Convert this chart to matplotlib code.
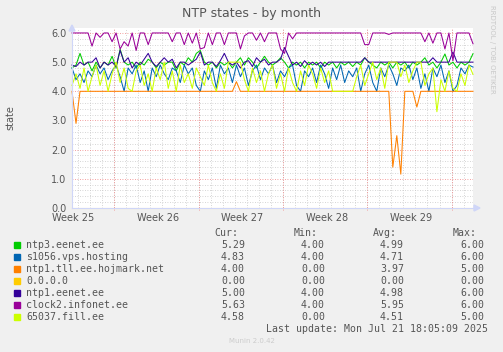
import numpy as np
import matplotlib.pyplot as plt
from matplotlib.patches import Rectangle

# samples every 1/3 day across the month window
days = np.linspace(0, 33.28, 101)

ntp3 = [4.8, 4.9, 5.3, 4.9, 5.0, 4.7, 5.0, 4.8, 5.0, 4.9,
        5.2, 4.8, 5.45, 5.0, 4.9, 5.0, 4.8, 5.0, 4.9, 5.1,
        5.0, 4.8, 5.0, 4.9, 5.0, 5.0, 4.7, 5.0, 4.9, 5.15,
        5.0, 5.3, 5.4, 5.0, 4.9, 5.0, 4.8, 5.0, 4.9, 5.0,
        4.8, 5.0, 5.15, 4.9, 5.15, 5.0, 4.8, 5.0, 5.2, 5.0,
        4.9, 5.0, 5.15, 5.0, 4.8, 5.0, 4.9, 5.0, 4.8, 5.0,
        4.9, 5.0, 4.8, 5.0, 4.9, 5.0, 4.8, 5.0, 4.9, 5.0,
        4.85, 5.0, 4.9, 5.15, 5.0, 4.9, 4.8, 5.0, 4.9, 5.0,
        4.8, 5.0, 4.9, 5.0, 4.8, 5.0, 4.9, 5.0, 5.15, 4.9,
        5.0, 4.8, 5.0, 5.28, 4.9, 5.0, 4.8, 5.0, 4.9, 5.0,
        5.29]

s1056 = [4.8, 4.4, 4.6, 4.3, 4.7, 4.5, 4.9, 4.6, 4.8, 4.4,
         4.7, 4.9, 4.5, 4.0, 4.8, 4.6, 4.9, 4.3, 4.7, 4.0,
         4.8, 4.5, 4.9, 4.6, 4.4, 4.8, 4.7, 4.3, 4.9, 4.6,
         4.8, 4.2, 4.0, 4.7, 4.4, 4.8, 4.1, 4.9, 4.6, 4.8,
         4.3, 4.9, 4.5, 4.8, 4.2, 4.7, 4.9, 4.4, 4.8, 4.6,
         4.9, 4.3, 4.7, 4.5, 4.8, 4.9, 4.2, 4.0, 4.7, 4.5,
         4.8, 4.3, 4.9, 4.6, 4.1, 4.8, 4.4, 4.9, 4.3, 4.7,
         4.5, 4.8, 4.0, 4.6, 4.9, 4.3, 4.0, 4.8, 4.5, 4.9,
         4.6, 4.2, 4.8, 4.7, 4.9, 4.4, 4.8, 4.1, 4.6, 4.0,
         4.8, 4.5, 4.9, 4.3, 4.7, 4.0, 4.2, 4.8, 4.6, 4.9,
         4.83]

hojmark = [4.0, 2.9, 4.0, 4.0, 4.0, 4.0, 4.0, 4.0, 4.0, 4.0,
           4.0, 4.0, 4.0, 4.0, 4.0, 4.0, 4.0, 4.0, 4.0, 4.0,
           4.0, 4.0, 4.0, 4.0, 4.0, 4.0, 4.0, 4.0, 4.0, 4.0,
           4.0, 4.0, 4.0, 4.0, 4.0, 4.0, 4.0, 4.0, 4.0, 4.0,
           4.0, 4.33, 4.0, 4.0, 4.0, 4.0, 4.0, 4.0, 4.0, 4.0,
           4.0, 4.0, 4.0, 4.0, 4.0, 4.0, 4.0, 4.0, 4.0, 4.0,
           4.0, 4.0, 4.0, 4.0, 4.0, 4.0, 4.0, 4.0, 4.0, 4.0,
           4.0, 4.0, 4.0, 4.0, 4.0, 4.0, 4.0, 4.0, 4.0, 4.0,
           1.4, 2.48, 1.16, 4.0, 4.0, 4.0, 3.46, 4.0, 4.0, 4.0,
           4.0, 4.0, 4.0, 4.0, 4.0, 4.0, 4.0, 4.0, 4.0, 4.0,
           4.0]

zero_peer = [0.0] * 101

ntp1 = [4.9, 4.85, 5.0, 4.9, 5.0, 5.0, 5.15, 4.8, 5.0, 4.9,
        5.0, 4.85, 5.4, 5.0, 5.15, 4.8, 5.0, 4.9, 5.1, 5.3,
        5.0, 4.85, 5.0, 5.15, 5.0, 5.1, 4.8, 5.0, 5.0, 4.9,
        5.0, 5.1, 5.35, 4.9, 5.0, 5.0, 4.85, 5.05, 5.3, 5.0,
        4.9, 5.0, 4.8, 5.0, 5.05, 4.85, 5.15, 5.0, 5.1, 4.9,
        5.0, 5.0, 5.1, 5.5, 5.2, 4.9, 5.0, 4.85, 5.05, 4.9,
        5.0, 4.9, 5.0, 4.85, 5.0, 5.0, 5.0, 5.0, 5.0, 5.0,
        5.0, 5.0, 5.0, 5.15, 5.0, 5.0, 5.0, 5.0, 5.0, 5.0,
        5.0, 5.0, 5.0, 5.0, 5.0, 5.0, 5.0, 5.0, 5.0, 5.0,
        5.15, 5.0, 5.0, 5.0, 5.0, 5.35, 5.0, 5.0, 5.0, 5.0,
        5.0]

clock2 = [6.0, 6.0, 6.0, 6.0, 6.0, 5.55, 6.0, 5.85, 6.0, 6.0,
          5.7, 6.0, 5.45, 5.7, 5.55, 6.0, 5.4, 6.0, 6.0, 5.6,
          6.0, 6.0, 6.0, 6.0, 6.0, 5.7, 6.0, 6.0, 5.6, 6.0,
          5.65, 6.0, 5.45, 5.5, 6.0, 5.6, 6.0, 6.0, 5.6, 6.0,
          6.0, 6.0, 5.45, 5.9, 6.0, 6.0, 5.75, 6.0, 5.7, 6.0,
          6.0, 6.0, 5.45, 5.3, 6.0, 5.8, 6.0, 6.0, 6.0, 6.0,
          6.0, 6.0, 6.0, 6.0, 6.0, 6.0, 6.0, 6.0, 6.0, 6.0,
          6.0, 6.0, 6.0, 5.6, 5.6, 6.0, 6.0, 6.0, 6.0, 5.95,
          6.0, 6.0, 6.0, 6.0, 6.0, 6.0, 6.0, 6.0, 5.7, 6.0,
          5.65, 6.0, 6.0, 5.45, 6.0, 5.05, 6.0, 6.0, 6.0, 6.0,
          5.63]

fill65037 = [4.2, 4.6, 4.1, 4.8, 4.0, 4.5, 4.9, 4.2, 4.7, 4.0,
             4.6, 5.0, 4.3, 4.8, 4.1, 4.0, 4.7, 4.9, 4.2, 4.6,
             4.0, 4.8, 4.4, 5.0, 4.1, 4.7, 4.0, 4.9, 4.3, 4.6,
             4.1, 4.8, 4.5, 4.2, 4.9, 4.3, 4.0, 4.6, 4.1, 5.0,
             5.0, 5.0, 5.0, 4.4, 4.0, 4.8, 4.3, 4.7, 4.0, 4.6,
             4.9, 4.1, 4.6, 4.0, 4.8, 4.3, 4.0, 4.7, 4.2, 4.9,
             4.6, 4.1, 4.8, 4.3, 4.7, 4.0, 4.0, 4.0, 4.0, 4.0,
             4.0, 4.5, 4.9, 4.2, 4.6, 5.0, 4.4, 4.8, 4.1, 5.0,
             5.0, 5.0, 4.5, 4.9, 4.3, 4.7, 5.0, 5.0, 4.2, 4.6,
             4.8, 3.3, 4.4, 4.0, 4.7, 4.1, 4.0, 4.6, 4.2, 4.9,
             4.58]

names = ['ntp3.eenet.ee', 's1056.vps.hosting', 'ntp1.tll.ee.hojmark.net',
         '0.0.0.0', 'ntp1.eenet.ee', 'clock2.infonet.ee', '65037.fill.ee']
series = [ntp3, s1056, hojmark, zero_peer, ntp1, clock2, fill65037]
colors = ['#00CC00', '#0066B3', '#FF8000', '#FFCC00', '#330099', '#990099', '#CCFF00']
cur = ['5.29', '4.83', '4.00', '0.00', '5.00', '5.63', '4.58']
mins = ['4.00', '4.00', '0.00', '0.00', '4.00', '4.00', '0.00']
avgs = ['4.99', '4.71', '3.97', '0.00', '4.98', '5.95', '4.51']
maxs = ['6.00', '6.00', '5.00', '0.00', '6.00', '6.00', '5.00']
week_labels = ['Week 25', 'Week 26', 'Week 27', 'Week 28', 'Week 29']

W, H = 503, 352
fig = plt.figure(figsize=(W / 100, H / 100), dpi=100, facecolor='#F0F0F0')


def fx(x):
    return x / W


def fy(y):
    return 1 - y / H


ax = fig.add_axes([fx(72), fy(208), fx(401), 180 / H])
ax.set_facecolor('white')
ax.set_xlim(0, 33.28)
ax.set_ylim(0, 6.17)

# grid: minor every day / 0.2, major every week / 1.0
for d in np.arange(0.5, 33.28, 1.0):
    ax.axvline(d, color='#C8C8C8', lw=0.6, ls=(0, (1, 2)), zorder=0.5)
for d in np.arange(3.5, 33.28, 7.0):
    ax.axvline(d, ymin=-0.012, color='#F08080', lw=0.6, ls=(0, (1, 2)),
               zorder=0.6, clip_on=False)
for v in np.arange(0.2, 6.1, 0.2):
    if abs(v - round(v)) > 0.05:
        ax.axhline(v, color='#C8C8C8', lw=0.6, ls=(0, (1, 2)), zorder=0.5)
for v in range(1, 7):
    ax.axhline(v, color='#F08080', lw=0.6, ls=(0, (1, 2)), zorder=0.6)

for vals, c in zip(series, colors):
    ax.plot(days, vals, color=c, lw=0.75, zorder=2, clip_on=False)

for s in ['top', 'right']:
    ax.spines[s].set_visible(False)
for s in ['left', 'bottom']:
    ax.spines[s].set_color('#CFD6F8')
    ax.spines[s].set_linewidth(0.8)

ax.set_yticks(range(0, 7))
ax.set_yticklabels(['%.1f' % v for v in range(0, 7)])
ax.set_xticks([])
ax.tick_params(axis='y', length=0, pad=4, labelsize=7, labelcolor='#555555')
for lab in ax.get_yticklabels():
    lab.set_verticalalignment('center_baseline')

# axis arrows
fig.patches.append(plt.Polygon([[fx(69), fy(31)], [fx(75), fy(31)], [fx(72), fy(25)]],
                               closed=True, color='#CFD6F8', transform=fig.transFigure))
fig.patches.append(plt.Polygon([[fx(474), fy(205)], [fx(474), fy(211)], [fx(480), fy(208)]],
                               closed=True, color='#CFD6F8', transform=fig.transFigure))

for k, lab in enumerate(week_labels):
    ax.text(0.1 + 7.02 * k, -0.18, lab, ha='center', va='top', fontsize=7,
            color='#555555')

fig.text(0.5, fy(13), 'NTP states - by month', ha='center', va='center',
         fontsize=9, color='#555555')
fig.text(fx(10), fy(118), 'state', rotation=90, ha='center', va='center',
         fontsize=7, color='#555555')
fig.text(fx(492), fy(5), 'RRDTOOL / TOBI OETIKER', rotation=270, ha='center',
         va='top', fontsize=5, color='#C8C8C8')

mono = 'DejaVu Sans Mono'
fs = 7.1
tc = '#555555'
for xr, hd in zip([238, 318, 397, 477], ['Cur:', 'Min:', 'Avg:', 'Max:']):
    fig.text(fx(xr), fy(233), hd, ha='right', va='center', fontsize=fs,
             family=mono, color=tc)
for i, name in enumerate(names):
    y = 244.5 + 12 * i
    fig.patches.append(Rectangle((fx(14), fy(y + 3)), fx(6), 6 / H,
                                 color=colors[i], transform=fig.transFigure))
    fig.text(fx(26), fy(y), name, ha='left', va='center', fontsize=fs,
             family=mono, color=tc)
    for xr, col in zip([245, 325, 404, 484], [cur, mins, avgs, maxs]):
        fig.text(fx(xr), fy(y), col[i], ha='right', va='center', fontsize=fs,
                 family=mono, color=tc)

fig.text(fx(488), fy(328.5), 'Last update: Mon Jul 21 18:05:09 2025', ha='right',
         va='center', fontsize=fs, family=mono, color=tc)
fig.text(0.5, fy(341), 'Munin 2.0.42', ha='center', va='center', fontsize=5,
         color='#CCCCCC')

fig.savefig('out.png', dpi=100, facecolor=fig.get_facecolor())
